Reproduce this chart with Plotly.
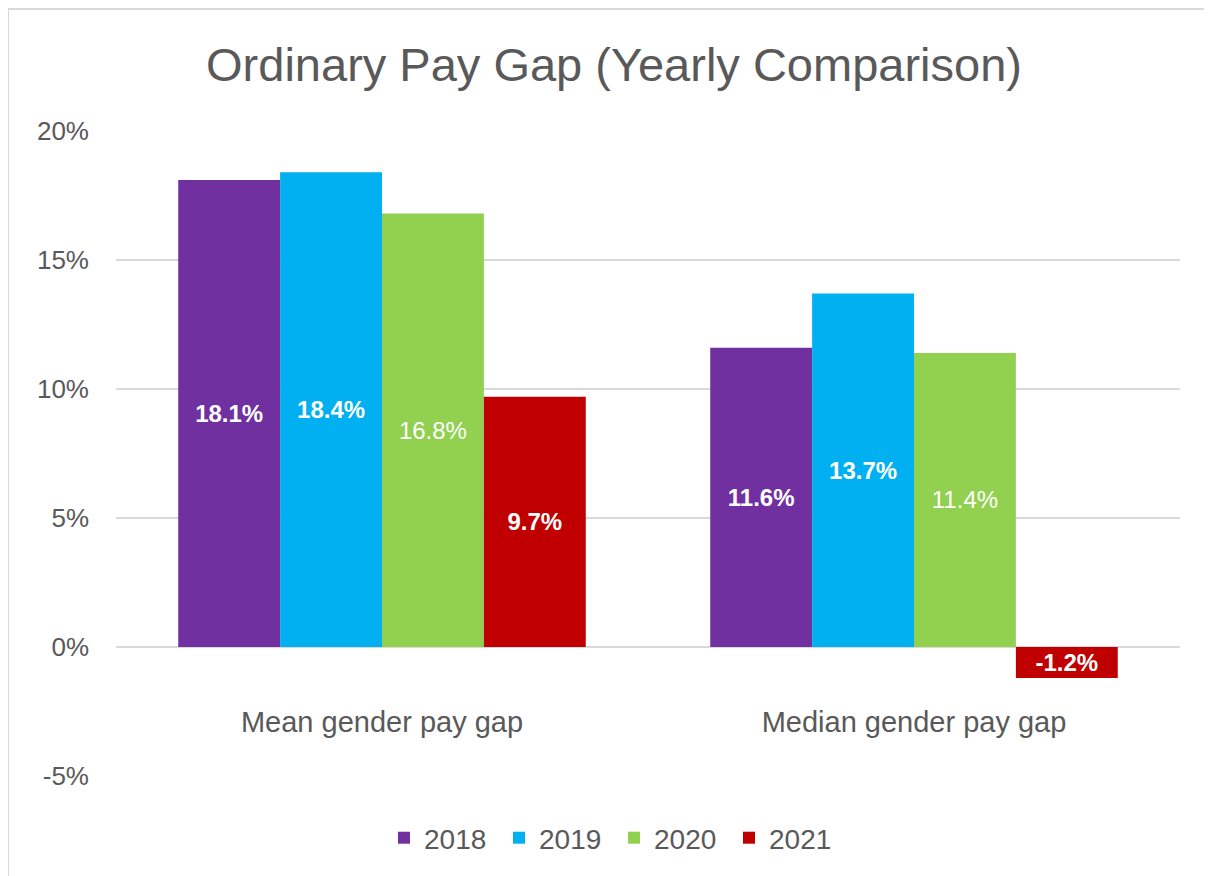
import plotly.graph_objects as go

categories = ["Mean gender pay gap", "Median gender pay gap"]
years = ["2018", "2019", "2020", "2021"]
values_2018 = [18.1, 11.6]
values_2019 = [18.4, 13.7]
values_2020 = [16.8, 11.4]
values_2021 = [9.7, -1.2]
series = [values_2018, values_2019, values_2020, values_2021]
colors = ["#7030A0", "#00B0F0", "#92D050", "#C00000"]
label_weights = ["bold", "bold", "normal", "bold"]
y_ticks = [-5, 0, 5, 10, 15, 20]
y_tick_labels = ["-5%", "0%", "5%", "10%", "15%", "20%"]

FONT = "Liberation Sans, Arial, sans-serif"
GREY = "#595959"

fig = go.Figure()
for name, vals, col, w in zip(years, series, colors, label_weights):
    fig.add_trace(go.Bar(
        name=name, x=categories, y=vals,
        marker=dict(color=col, line=dict(width=0)),
        text=[f"{v:.1f}%" for v in vals],
        textposition="inside", insidetextanchor="middle", textangle=0,
        constraintext="none",
        textfont=dict(family=FONT, size=24, color="white", weight=w),
        hoverinfo="skip",
    ))

# page body has an 8px offset in the browser
OFF = 8
W, H = 1212, 876
ml, mt = 116 - OFF, 131 - OFF
pw, ph = 1064, 645
mr = W - ml - pw
mb = H - mt - ph

fig.update_layout(
    width=W, height=H,
    margin=dict(l=ml, r=mr, t=mt, b=mb),
    paper_bgcolor="white", plot_bgcolor="white",
    barmode="group", bargap=0.234, bargroupgap=0,
    font=dict(family=FONT, color=GREY),
    title=dict(text="Ordinary Pay Gap (Yearly Comparison)",
               font=dict(family=FONT, size=47, color=GREY),
               x=(614 - OFF) / W, xref="container", xanchor="center",
               y=1 - (65 - OFF) / H, yref="container", yanchor="middle"),
    xaxis=dict(anchor="free", position=0.2, showline=False, ticks="",
               showgrid=False, zeroline=False,
               tickfont=dict(family=FONT, size=29, color=GREY),
               ticklabelstandoff=55),
    yaxis=dict(range=[-5, 20], tickvals=y_ticks, ticktext=y_tick_labels,
               showgrid=True, gridcolor="#D9D9D9", gridwidth=1.5,
               zeroline=True, zerolinecolor="#D9D9D9", zerolinewidth=1.5,
               showline=False, ticks="",
               tickfont=dict(family=FONT, size=26, color=GREY),
               ticklabelstandoff=26),
    legend=dict(orientation="h", x=(614 - OFF - ml) / pw, xanchor="center",
                y=-(838 - OFF - (mt + ph)) / ph, yanchor="middle",
                font=dict(family=FONT, size=28, color=GREY),
                itemwidth=30, entrywidth=70, entrywidthmode="pixels",
                traceorder="normal"),
    shapes=[
        dict(type="line", xref="paper", yref="paper",
             x0=(0 - ml) / pw, x1=(W - ml) / pw,
             y0=1 + (mt - 1) / ph, y1=1 + (mt - 1) / ph,
             line=dict(color="#D9D9D9", width=2)),
        dict(type="line", xref="paper", yref="paper",
             x0=(0 - ml) / pw, x1=(0 - ml) / pw,
             y0=1 + (mt - 1) / ph, y1=-(mb) / ph,
             line=dict(color="#D9D9D9", width=2)),
    ],
)

fig.write_html("out.html")
